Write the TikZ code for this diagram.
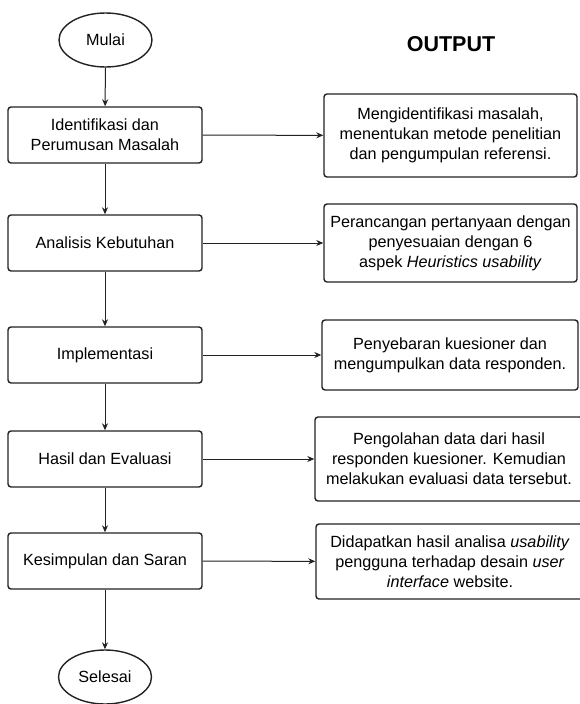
\documentclass[tikz,border=0pt]{standalone}
\usepackage{fontspec}
\setmainfont{Liberation Sans}
\usetikzlibrary{shapes.geometric,arrows.meta}
\definecolor{linec}{HTML}{222222}
\tikzset{
  base/.style={draw=linec, line width=1.4pt, font=\fontsize{16.2}{20}\selectfont, align=center, inner sep=0pt},
  term/.style={base, ellipse, minimum width=93pt, minimum height=54pt},
  stepbox/.style={base, rounded corners=3pt, minimum width=194pt, minimum height=56pt},
  outbox/.style={base, rounded corners=3pt},
  conn/.style={draw=linec, line width=1pt, -{Stealth[length=7pt,width=6pt]}},
}
\begin{document}
\begin{tikzpicture}[x=1pt,y=-1pt]
\useasboundingbox (0,0) rectangle (580,704);
\node[term] (start) at (105.5,40) {Mulai};
\node[font=\fontsize{21.5}{24}\selectfont\bfseries] (out) at (451,44) {OUTPUT};
\node[stepbox] (b1) at (105,135) {Identifikasi dan\\Perumusan Masalah};
\node[stepbox] (b2) at (105,243) {Analisis Kebutuhan};
\node[stepbox] (b3) at (105,355) {Implementasi};
\node[stepbox] (b4) at (105,459) {Hasil dan Evaluasi};
\node[stepbox] (b5) at (105,561) {Kesimpulan dan Saran};
\node[term] (end) at (105,677) {Selesai};
\node[outbox, minimum width=253pt, minimum height=83pt] (r1) at (450.5,135.5) {Mengidentifikasi masalah,\\menentukan metode penelitian\\dan pengumpulan referensi.};
\node[outbox, minimum width=253pt, minimum height=78pt] (r2) at (450.5,243) {Perancangan pertanyaan dengan\\penyesuaian dengan 6\\aspek \textit{Heuristics usability}};
\node[outbox, minimum width=256pt, minimum height=70pt] (r3) at (450,355) {Penyebaran kuesioner dan\\mengumpulkan data responden.};
\node[outbox, minimum width=268pt, minimum height=84pt] (r4) at (449,459) {Pengolahan data dari hasil\\responden kuesioner. Kemudian\\melakukan evaluasi data tersebut.};
\node[outbox, minimum width=268pt, minimum height=75pt] (r5) at (450,561.5) {Didapatkan hasil analisa \textit{usability}\\pengguna terhadap desain \textit{user}\\\textit{interface} website.};
\draw[conn] (start) -- (b1);
\draw[conn] (b1) -- (b2);
\draw[conn] (b2) -- (b3);
\draw[conn] (b3) -- (b4);
\draw[conn] (b4) -- (b5);
\draw[conn] (b5) -- (end);
\draw[conn] (b1) -- (r1);
\draw[conn] (b2) -- (r2);
\draw[conn] (b3) -- (r3);
\draw[conn] (b4) -- (r4);
\draw[conn] (b5) -- (r5);
\end{tikzpicture}
\end{document}
